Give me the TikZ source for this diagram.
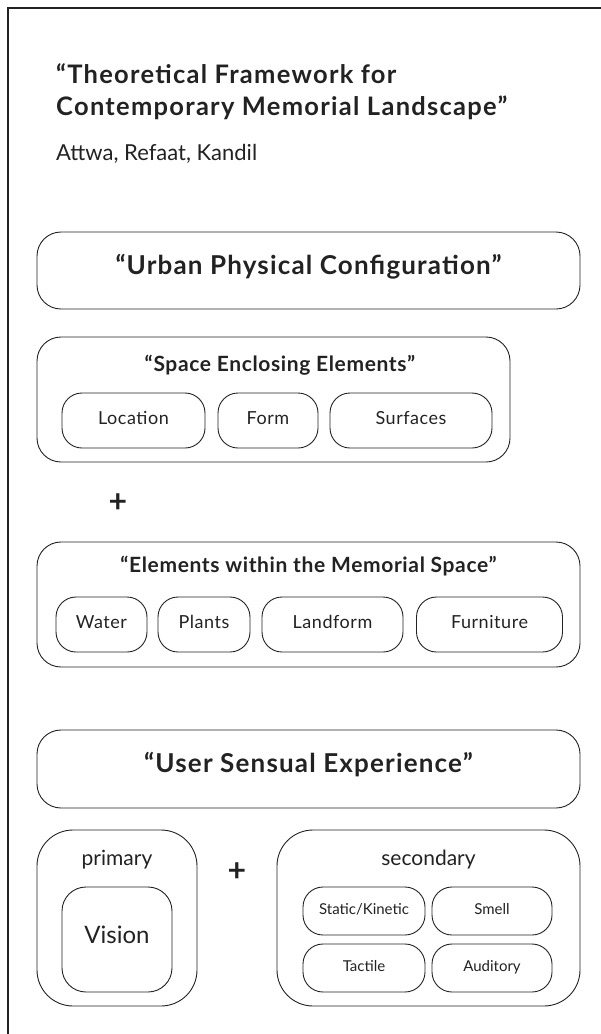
\documentclass[tikz,border=0pt]{standalone}
\usepackage{fontspec}
\setmainfont{Lato}
\usetikzlibrary{positioning}
\definecolor{ink}{HTML}{222222}
\newcommand{\fsz}[1]{\fontsize{#1}{#1}\selectfont}
\newcommand{\spaced}[1]{\addfontfeatures{LetterSpace=#1}}
\begin{document}
\begin{tikzpicture}[
	                      x = 1pt,
	                      y = -1pt,
	      every node/.style = {text=ink, inner sep=0pt},
	        headbox/.style = {draw=ink, line width=0.9pt, rounded corners=24pt, minimum width=543pt, minimum height=77pt,
	                          text height=0.72em, text depth=0pt, font=\bfseries\fsz{26}\spaced{4.5}},
	       groupbox/.style = {draw=ink, line width=0.9pt, rounded corners=24pt},
	        itembox/.style = {draw=ink, line width=0.9pt, rounded corners=20pt, minimum height=55pt,
	                          text height=0.72em, text depth=0pt, font=\fsz{18}\spaced{3}},
	       sensebox/.style = {itembox, minimum height=48pt, font=\fsz{15}},
	      grouptext/.style = {anchor=base, font=\bfseries\fsz{21}\spaced{3}},
	       plussign/.style = {font=\bfseries\fsz{32}},
	                     ]
		\useasboundingbox (0,0) rectangle (601,1034);
		\coordinate (frameTR) at (601,8);
		\coordinate (frameTL) at (8,8);
		\coordinate (frameBL) at (8,1034);
		\draw[ink, line width=2pt] (frameTR) -- (frameTL) -- (frameBL);
		\node[anchor=base west, font=\bfseries\fsz{25.5}\spaced{5}] (title1) at (56,83) {“Theoretical Framework for};
		\node[anchor=base west, font=\bfseries\fsz{25.5}\spaced{5}] (title2) at (56,115) {Contemporary Memorial Landscape”};
		\node[anchor=base west, font=\fsz{22}] (authors) at (56,160) {Attwa, Refaat, Kandil};
		\node[headbox] (urban) at (308.5,270.5) {“Urban Physical Configuration”};
		\node[groupbox, minimum width=473pt, minimum height=125pt] (enclosing) at (273.5,399.5) {};
		\node[grouptext] (enclosingtext) at (280,371) {“Space Enclosing Elements”};
		\node[itembox, minimum width=143pt] (location) at (133.5,420.5) {Location};
		\node[itembox, minimum width=100pt] (form) at (268,420.5) {Form};
		\node[itembox, minimum width=162pt] (surfaces) at (411,420.5) {Surfaces};
		\node[plussign] (plusA) at (118,503) {+};
		\node[groupbox, minimum width=543pt, minimum height=125pt] (within) at (308.5,604.5) {};
		\node[grouptext] (withintext) at (308.5,572) {“Elements within the Memorial Space”};
		\node[itembox, minimum width=91pt] (water) at (101.5,624.5) {Water};
		\node[itembox, minimum width=92pt] (plants) at (204,624.5) {Plants};
		\node[itembox, minimum width=141pt] (landform) at (332.5,624.5) {Landform};
		\node[itembox, minimum width=146pt] (furniture) at (489.5,624.5) {Furniture};
		\node[headbox, minimum height=78pt] (sensual) at (308.5,769) {“User Sensual Experience”};
		\node[groupbox, rounded corners=36pt, minimum width=160pt, minimum height=176pt] (primary) at (117,918) {};
		\node[anchor=base, font=\fsz{21}] (primarytext) at (117,865) {primary};
		\node[itembox, rounded corners=24pt, minimum width=110pt, minimum height=105pt, font=\fsz{24}] (vision) at (117,939.5) {Vision};
		\node[plussign] (plusB) at (237,872) {+};
		\node[groupbox, rounded corners=36pt, minimum width=303pt, minimum height=176pt] (secondary) at (428.5,918) {};
		\node[anchor=base, font=\fsz{21}] (secondarytext) at (428.5,865) {secondary};
		\node[sensebox, minimum width=122pt] (kinetic) at (364,911) {Static/Kinetic};
		\node[sensebox, minimum width=120pt] (smell) at (492,911) {Smell};
		\node[sensebox, minimum width=122pt] (tactile) at (364,968) {Tactile};
		\node[sensebox, minimum width=120pt] (auditory) at (492,968) {Auditory};
\end{tikzpicture}
\end{document}
